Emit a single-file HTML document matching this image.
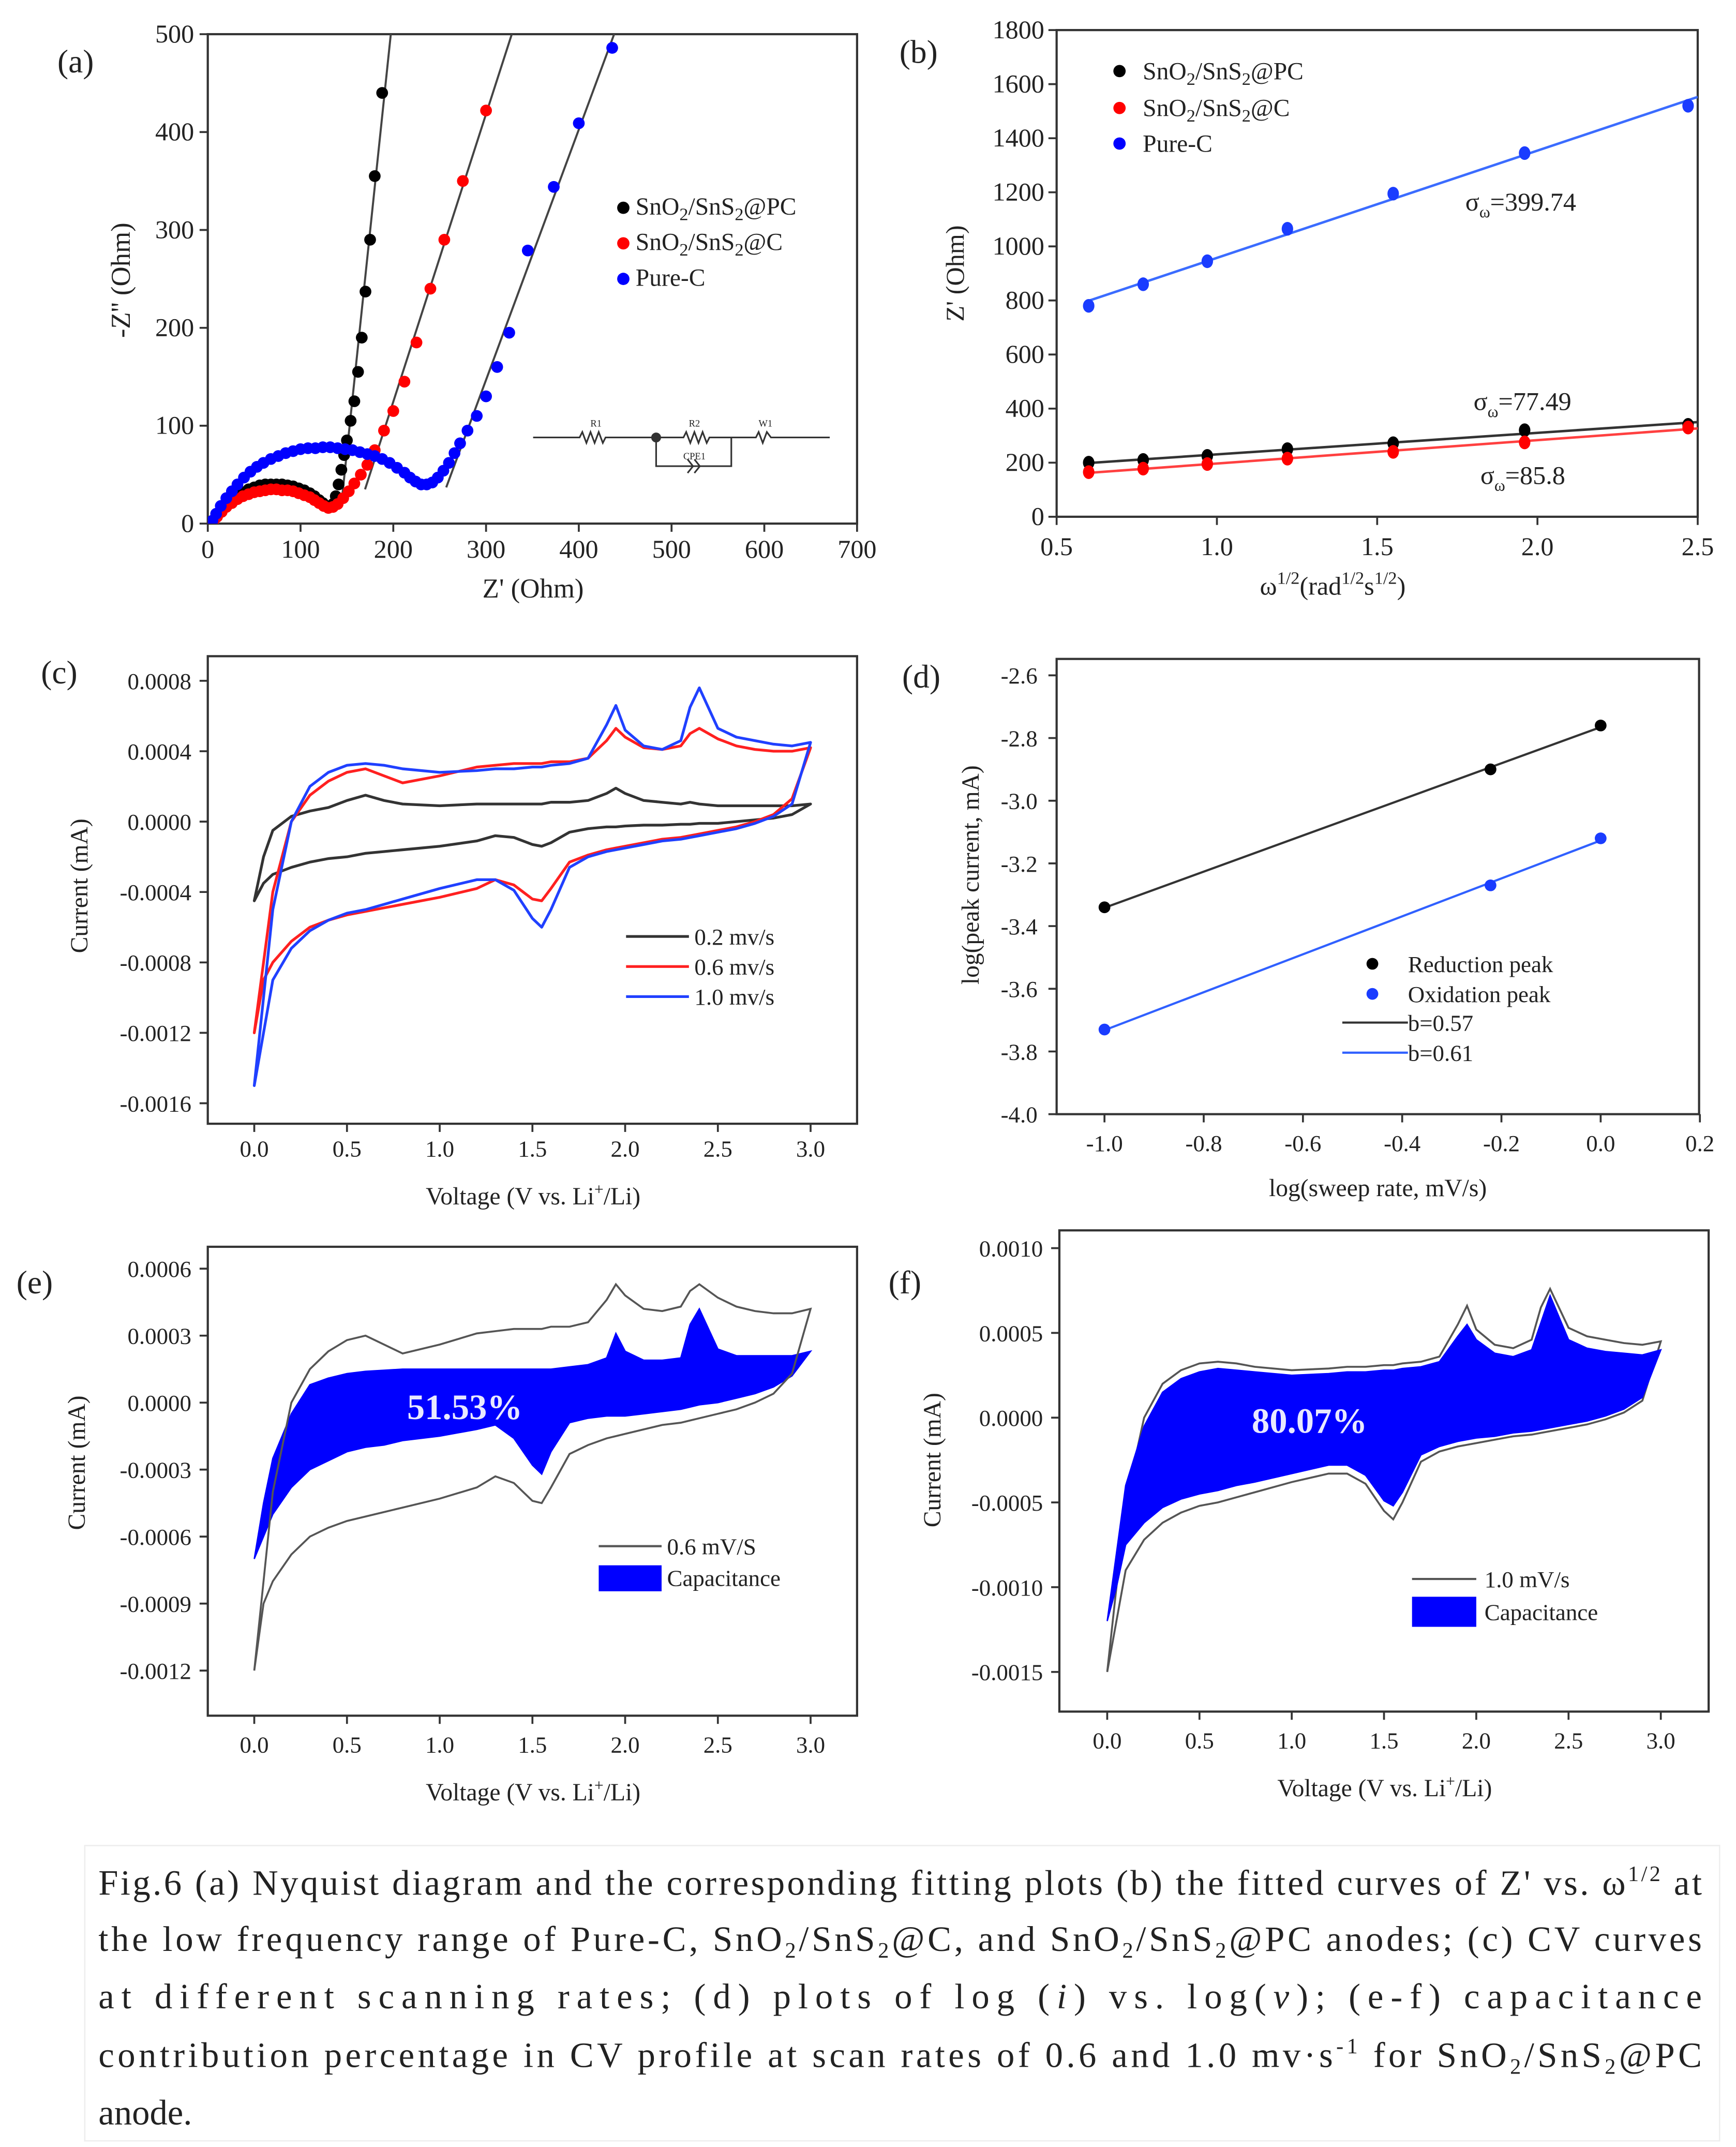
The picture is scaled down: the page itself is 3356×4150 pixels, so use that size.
<!DOCTYPE html>
<html><head><meta charset="utf-8">
<style>
html,body{margin:0;padding:0;background:#fff;}
svg{display:block;}
text{font-family:"Liberation Serif","Times New Roman",serif;fill:#222;}
</style></head>
<body>
<svg id="fig" xmlns="http://www.w3.org/2000/svg" width="3356" height="4150" viewBox="0 0 1270 1570.5">
<rect x="0" y="0" width="1270" height="1570.5" fill="#fff"/>
<g font-size="26">
<rect x="62" y="1350" width="1196" height="216" fill="none" stroke="#eee" stroke-width="1"/>
<text x="72" y="1386" textLength="1173" lengthAdjust="spacing">Fig.6 (a) Nyquist diagram and the corresponding fitting plots (b) the fitted curves of Z' vs. ω<tspan font-size="16" dy="-10">1/2</tspan><tspan dy="10"> at</tspan></text>
<text x="72" y="1427" textLength="1173" lengthAdjust="spacing">the low frequency range of Pure-C, SnO<tspan font-size="16" dy="5">2</tspan><tspan dy="-5">/SnS</tspan><tspan font-size="16" dy="5">2</tspan><tspan dy="-5">@C, and SnO</tspan><tspan font-size="16" dy="5">2</tspan><tspan dy="-5">/SnS</tspan><tspan font-size="16" dy="5">2</tspan><tspan dy="-5">@PC anodes; (c) CV curves</tspan></text>
<text x="72" y="1469" textLength="1173" lengthAdjust="spacing">at    different    scanning    rates;    (d)    plots    of    log    (<tspan font-style="italic">i</tspan>)    vs.    log(<tspan font-style="italic">v</tspan>); (e-f)    capacitance</text>
<text x="72" y="1512" textLength="1173" lengthAdjust="spacing">contribution percentage in CV profile at   scan rates of 0.6 and 1.0 mv·s<tspan font-size="16" dy="-10">-1</tspan><tspan dy="10"> for SnO</tspan><tspan font-size="16" dy="5">2</tspan><tspan dy="-5">/SnS</tspan><tspan font-size="16" dy="5">2</tspan><tspan dy="-5">@PC</tspan></text>
<text x="72" y="1554">anode.</text>
</g>
</svg>
<script>
// ---------- DATA ----------
// (a) Nyquist
const aBlackRe=[6,10,15,20,26,32,38,44,50,56,62,68,74,80,86,92,98,104,110,115,120,124,128,132,135,138,141,144,147,150,154,158,162,166,170,175,180,188];
const aBlackIm=[3,9,15,20,25,29,32,35,37,39,40,40,40,40,39,38,36,34,31,28,24,21,18,17,20,28,40,55,70,85,105,125,155,190,237,290,355,440];
const aRedRe=[6,10,15,20,26,32,38,44,50,56,62,68,74,80,86,92,98,104,110,115,120,125,130,135,140,146,152,158,165,172,180,190,200,212,225,240,255,275,300];
const aRedIm=[2,7,12,17,21,25,28,30,32,33,34,35,35,34,34,33,31,29,27,24,21,18,16,17,20,26,33,41,50,60,75,95,115,145,185,240,290,350,422];
const aBlueRe=[5,9,14,20,26,32,39,46,53,60,68,76,84,92,100,108,116,124,132,140,148,156,164,172,180,188,196,204,212,218,224,230,236,242,248,254,260,266,272,280,290,300,312,325,345,373,400,436];
const aBlueIm=[3,10,18,26,33,40,47,53,58,62,66,69,72,74,76,77,77,78,78,77,76,75,73,71,69,66,62,57,52,47,43,40,40,42,47,54,62,72,82,95,110,130,160,195,279,344,409,486];
const aFitStart=[27,29,36]; // index where linear Warburg region begins
// (b) Z' vs w^1/2
const bX=[0.6,0.77,0.97,1.22,1.55,1.96,2.47];
const bBlue=[780,860,945,1065,1195,1345,1520];
const bBlack=[200,210,225,250,272,320,340];
const bRed=[165,178,195,215,240,275,330];
// (c) CV curves (units 1e-4 mA)
const cV=[0,0.05,0.1,0.2,0.3,0.4,0.5,0.6,0.7,0.8,1.0,1.2,1.3,1.4,1.5,1.55,1.6,1.7,1.8,1.9,1.95,2.0,2.1,2.2,2.3,2.35,2.4,2.5,2.6,2.7,2.8,2.9,3.0];
const cBlackUp=[-4.5,-2,-0.5,0.3,0.6,0.8,1.2,1.5,1.2,1.0,0.9,1.0,1.0,1.0,1.0,1.0,1.1,1.1,1.2,1.6,1.9,1.6,1.2,1.1,1.0,1.1,1.0,0.9,0.9,0.9,0.9,0.9,1.0];
const cBlackDn=[-4.5,-3.5,-3.0,-2.6,-2.3,-2.1,-2.0,-1.8,-1.7,-1.6,-1.4,-1.1,-0.8,-0.9,-1.3,-1.4,-1.2,-0.6,-0.4,-0.3,-0.3,-0.25,-0.2,-0.2,-0.15,-0.15,-0.1,-0.1,0,0.1,0.2,0.4,1.0];
const cRedUp=[-12,-8,-4,0,1.5,2.3,2.8,3.0,2.6,2.2,2.6,3.1,3.2,3.3,3.3,3.3,3.4,3.4,3.6,4.6,5.3,4.8,4.2,4.1,4.3,5.0,5.3,4.7,4.3,4.1,4.0,4.0,4.2];
const cRedDn=[-12,-9,-8,-6.8,-6,-5.6,-5.3,-5.1,-4.9,-4.7,-4.3,-3.8,-3.3,-3.6,-4.4,-4.5,-3.8,-2.3,-1.9,-1.6,-1.5,-1.4,-1.2,-1.0,-0.9,-0.8,-0.7,-0.5,-0.3,0,0.4,1.3,4.2];
const cBlueUp=[-15,-10,-5,0,2.0,2.8,3.2,3.3,3.2,3.0,2.8,2.9,3.0,3.0,3.1,3.1,3.2,3.3,3.6,5.5,6.6,5.2,4.3,4.1,4.6,6.5,7.6,5.3,4.8,4.6,4.4,4.3,4.5];
const cBlueDn=[-15,-12,-9,-7.2,-6.2,-5.6,-5.2,-5.0,-4.7,-4.4,-3.8,-3.3,-3.3,-3.9,-5.5,-6.0,-5.0,-2.6,-2.0,-1.7,-1.6,-1.5,-1.3,-1.1,-1.0,-0.9,-0.8,-0.6,-0.4,-0.1,0.3,1.0,4.5];
const cLegend=['0.2 mv/s','0.6 mv/s','1.0 mv/s'];
// (d) log i vs log v
const dX=[-1,-0.222,0];
const dRed=[-3.34,-2.90,-2.76];
const dOx=[-3.73,-3.27,-3.12];
// (e) capacitive fill, 0.6 mV/s
const eCapUp=[-7,-4.5,-2.5,-0.5,0.8,1.1,1.3,1.4,1.45,1.5,1.5,1.5,1.5,1.5,1.5,1.5,1.5,1.6,1.7,2.0,3.1,2.3,1.9,1.9,2.0,3.5,4.2,2.4,2.1,2.1,2.1,2.1,2.3];
const eCapDn=[-7,-6,-5,-3.8,-3.0,-2.6,-2.2,-2.0,-1.9,-1.7,-1.5,-1.2,-1.0,-1.6,-2.8,-3.2,-2.2,-0.9,-0.7,-0.6,-0.6,-0.6,-0.5,-0.4,-0.3,-0.2,-0.1,0,0.2,0.4,0.7,1.2,2.3];
// (f) capacitive fill, 1.0 mV/s
const fCapUp=[-12,-8,-4,-0.5,1.5,2.3,2.7,2.9,2.8,2.7,2.5,2.6,2.7,2.7,2.8,2.8,2.9,3.0,3.3,4.8,5.5,4.6,3.8,3.6,4.0,5.6,7.2,4.6,4.1,3.9,3.8,3.7,4.0];
const fCapDn=[-12,-10,-7.5,-6.2,-5.3,-4.8,-4.5,-4.3,-4.0,-3.8,-3.3,-2.8,-2.8,-3.4,-4.9,-5.2,-4.4,-2.2,-1.7,-1.4,-1.3,-1.2,-1.1,-0.9,-0.8,-0.7,-0.6,-0.4,-0.2,0.1,0.5,1.2,4.0];
// tick labels
const aXTicks=[0,100,200,300,400,500,600,700];
const aYTicks=[0,100,200,300,400,500];
const bXTicks=[0.5,1.0,1.5,2.0,2.5];
const bYTicks=[0,200,400,600,800,1000,1200,1400,1600,1800];
const vTicks=[0,0.5,1.0,1.5,2.0,2.5,3.0];
const cYTicks=[0.0008,0.0004,0,-0.0004,-0.0008,-0.0012,-0.0016];
const dXTicks=[-1.0,-0.8,-0.6,-0.4,-0.2,0.0,0.2];
const dYTicks=[-2.6,-2.8,-3.0,-3.2,-3.4,-3.6,-3.8,-4.0];
const eYTicks=[0.0006,0.0003,0,-0.0003,-0.0006,-0.0009,-0.0012];
const fYTicks=[0.0010,0.0005,0,-0.0005,-0.0010,-0.0015];

// ---------- HELPERS ----------
const NS='http://www.w3.org/2000/svg';
const svg=document.getElementById('fig');
function mk(tag,attrs,parent){const e=document.createElementNS(NS,tag);for(const k in attrs)e.setAttribute(k,attrs[k]);(parent||svg).appendChild(e);return e;}
function lin(v0,p0,v1,p1){return v=>p0+(v-v0)*(p1-p0)/(v1-v0);}
function fit(xs,ys){const n=xs.length;let sx=0,sy=0,sxx=0,sxy=0;for(let i=0;i<n;i++){sx+=xs[i];sy+=ys[i];sxx+=xs[i]*xs[i];sxy+=xs[i]*ys[i];}const m=(n*sxy-sx*sy)/(n*sxx-sx*sx);return {m:m,b:(sy-m*sx)/n};}
let clipId=0;
function panel(p){
  const g=mk('g',{});
  
  
  const cp=mk('clipPath',{id:'clip'+(++clipId)},g);
  mk('rect',{x:p.bx0,y:p.by0,width:p.bx1-p.bx0,height:p.by1-p.by0},cp);
  const box=mk('rect',{x:p.bx0,y:p.by0,width:p.bx1-p.bx0,height:p.by1-p.by0,fill:'none',stroke:'#333','stroke-width':1.6},g);
  
  
  p.xt.forEach(v=>{const x=p.sx(v);
    const t=mk('line',{x1:x,x2:x,y1:p.by1,y2:p.by1+6,stroke:'#333','stroke-width':1.4},g);
    
    
    const l=mk('text',{x:x,y:p.by1+p.xlo,'text-anchor':'middle','font-size':p.fs},g);l.textContent=p.xf(v);
    
    });
  p.yt.forEach(v=>{const y=p.sy(v);
    const t=mk('line',{x1:p.bx0-6,x2:p.bx0,y1:y,y2:y,stroke:'#333','stroke-width':1.4},g);
    
    
    const l=mk('text',{x:p.bx0-p.ylo,y:y+6,'text-anchor':'end','font-size':p.fs},g);l.textContent=p.yf(v);
    
    });
  const xl=mk('text',{x:p.xlx,y:p.xly,'text-anchor':'middle','font-size':p.lfs},g);xl.innerHTML=p.xl;
  
  
  const yl=mk('text',{x:0,y:0,'text-anchor':'middle','font-size':p.lfs,transform:'translate('+p.ylx+','+p.yly+') rotate(-90)'},g);yl.innerHTML=p.yl;
  
  
  const pl=mk('text',{x:p.plx,y:p.ply,'font-size':24},g);pl.textContent=p.pl;
  
  
  const inner=mk('g',{'clip-path':'url(#clip'+clipId+')'},g);
  return {g:g,inner:inner};
}
const f4=v=>v.toFixed(4);
const f1=v=>v.toFixed(1);
function loop(V,up,dn,sx,sy,k){const a=V.map((v,i)=>sx(v)+','+sy(up[i]*k));const b=V.map((v,i)=>sx(v)+','+sy(dn[i]*k)).reverse();return a.concat(b).join(' ');}

// ---------- (a) ----------
(function(){
const sx=lin(0,152,700,627), sy=lin(0,383,500,25);
const P=panel({name:'panel-a-nyquist',bx0:152,bx1:627,by0:25,by1:383,sx:sx,sy:sy,xt:aXTicks,yt:aYTicks,xf:v=>v,yf:v=>v,fs:19,xlo:25,ylo:10,lfs:20,
 xl:"Z' (Ohm)",xlx:390,xly:437,yl:"-Z'' (Ohm)",ylx:95,yly:205,pl:'(a)',plx:42,ply:53});
const series=[[aBlackRe,aBlackIm,'#000','black'],[aRedRe,aRedIm,'#ff0000','red'],[aBlueRe,aBlueIm,'#0000ff','blue']];
series.forEach((s,si)=>{
  const xs=s[0].slice(aFitStart[si]),ys=s[1].slice(aFitStart[si]);
  const f=fit(ys,xs); // Z' as function of Z''
  const y0=Math.max(ys[0]-25,10);
  const fl=mk('line',{x1:sx(f.m*y0+f.b),y1:sy(y0),x2:sx(f.m*520+f.b),y2:sy(520),stroke:'#444','stroke-width':1.5},P.inner);
  
  
});
series.forEach(s=>{s[0].forEach((x,i)=>{
  const c=mk('circle',{cx:sx(x),cy:sy(s[1][i]),r:4.3,fill:s[2]},P.inner);
  
  
});});
// equivalent circuit inset
const ci=mk('g',{stroke:'#333','stroke-width':1.2,fill:'none'},P.g);


mk('polyline',{points:'390,320 424,320 426,316 429,324 432,316 435,324 438,316 441,324 443,320 500,320 502,316 505,324 508,316 511,324 514,316 517,324 519,320 553,320 555,316 558,324 561,316 564,320 607,320'},ci);
mk('polyline',{points:'480,320 480,341 535,341 535,320'},ci);
mk('polyline',{points:'503,336 507,341 503,346'},ci);
mk('polyline',{points:'508,336 512,341 508,346'},ci);
mk('circle',{cx:480,cy:320,r:3,fill:'#333'},ci);
[['R1',436],['R2',508],['W1',560],['CPE1',508]].forEach((t,i)=>{const tx=mk('text',{x:t[1],y:i==3?336:312,'font-size':7,'text-anchor':'middle',stroke:'none'},ci);tx.textContent=t[0];});
// legend
const leg=[['SnO<tspan font-size="13" dy="4">2</tspan><tspan dy="-4">/SnS</tspan><tspan font-size="13" dy="4">2</tspan><tspan dy="-4">@PC</tspan>','#000',152],['SnO<tspan font-size="13" dy="4">2</tspan><tspan dy="-4">/SnS</tspan><tspan font-size="13" dy="4">2</tspan><tspan dy="-4">@C</tspan>','#ff0000',178],['Pure-C','#0000ff',204]];
leg.forEach(l=>{const lg=mk('g',{},P.g);
  
  
  mk('circle',{cx:456,cy:l[2],r:4.5,fill:l[1]},lg);
  const t=mk('text',{x:465,y:l[2]+5,'font-size':18},lg);t.innerHTML=l[0];});
})();

// ---------- (b) ----------
(function(){
const sx=lin(0.5,773,2.5,1242), sy=lin(0,378,1800,22);
const P=panel({name:'panel-b-warburg-fit',bx0:773,bx1:1242,by0:22,by1:378,sx:sx,sy:sy,xt:bXTicks,yt:bYTicks,xf:f1,yf:v=>v,fs:19,xlo:28,ylo:9,lfs:19,
 xl:'ω<tspan font-size="13" dy="-8">1/2</tspan><tspan dy="8">(rad</tspan><tspan font-size="13" dy="-8">1/2</tspan><tspan dy="8">s</tspan><tspan font-size="13" dy="-8">1/2</tspan><tspan dy="8">)</tspan>',xlx:975,xly:435,yl:"Z' (Ohm)",ylx:705,yly:200,pl:'(b)',plx:658,ply:46});
[[bBlack,'#333','#000','black'],[bRed,'#ff4040','#ff0000','red'],[bBlue,'#3b6cff','#1a3cff','blue']].forEach(s=>{
  const f=fit(bX,s[0]);
  const fl=mk('line',{x1:sx(0.6),y1:sy(f.m*0.6+f.b),x2:sx(2.5),y2:sy(f.m*2.5+f.b),stroke:s[1],'stroke-width':1.8},P.inner);
  
  
  bX.forEach((x,i)=>{const c=mk('ellipse',{cx:sx(x),cy:sy(s[0][i]),rx:4.2,ry:5,fill:s[2]},P.inner);
    
    });
});
const leg=[['SnO<tspan font-size="13" dy="4">2</tspan><tspan dy="-4">/SnS</tspan><tspan font-size="13" dy="4">2</tspan><tspan dy="-4">@PC</tspan>','#000',52],['SnO<tspan font-size="13" dy="4">2</tspan><tspan dy="-4">/SnS</tspan><tspan font-size="13" dy="4">2</tspan><tspan dy="-4">@C</tspan>','#ff0000',79],['Pure-C','#0000ff',105]];
leg.forEach(l=>{const lg=mk('g',{},P.g);
  
  
  mk('circle',{cx:819,cy:l[2],r:4.5,fill:l[1]},lg);
  const t=mk('text',{x:836,y:l[2]+6,'font-size':18},lg);t.innerHTML=l[0];});
[['399.74',1072,154],['77.49',1078,300],['85.8',1083,354]].forEach(a=>{
  const t=mk('text',{x:a[1],y:a[2],'font-size':19},P.g);t.innerHTML='σ<tspan font-size="12" dy="5">ω</tspan><tspan dy="-5">='+a[0]+'</tspan>';
  
  });
})();

// ---------- (c) ----------
(function(){
const sx=lin(0,186,3,593), sy=lin(0,601,0.0008,498);
const P=panel({name:'panel-c-cv-curves',bx0:152,bx1:627,by0:480,by1:822,sx:sx,sy:sy,xt:vTicks,yt:cYTicks,xf:f1,yf:f4,fs:17,xlo:24,ylo:12,lfs:18,
 xl:'Voltage (V vs. Li<tspan font-size="12" dy="-7">+</tspan><tspan dy="7">/Li)</tspan>',xlx:390,xly:881,yl:'Current (mA)',ylx:64,yly:648,pl:'(c)',plx:30,ply:500});
[[cBlackUp,cBlackDn,'#333','black'],[cRedUp,cRedDn,'#ff2020','red'],[cBlueUp,cBlueDn,'#2040ff','blue']].forEach(s=>{
  const pg=mk('polygon',{points:loop(cV,s[0],s[1],sx,sy,1e-4),fill:'none',stroke:s[2],'stroke-width':2,'stroke-linejoin':'round'},P.inner);
  
  });
['#333','#ff2020','#2040ff'].forEach((c,i)=>{const lg=mk('g',{},P.g);
  
  
  mk('line',{x1:458,x2:504,y1:685+i*22,y2:685+i*22,stroke:c,'stroke-width':2},lg);
  const t=mk('text',{x:508,y:691+i*22,'font-size':17},lg);t.textContent=cLegend[i];});
})();

// ---------- (d) ----------
(function(){
const sx=lin(-1,808,0,1171), sy=lin(-2.6,494,-4.0,815);
const P=panel({name:'panel-d-log-plot',bx0:773,bx1:1243,by0:482,by1:815,sx:sx,sy:sy,xt:dXTicks,yt:dYTicks,xf:f1,yf:f1,fs:17,xlo:27,ylo:14,lfs:18,
 xl:'log(sweep rate, mV/s)',xlx:1008,xly:875,yl:'log(peak current, mA)',ylx:716,yly:640,pl:'(d)',plx:660,ply:503});
[[dRed,'#333','#000','reduction'],[dOx,'#3060ff','#1a3cff','oxidation']].forEach(s=>{
  const f=fit(dX,s[0]);
  const fl=mk('line',{x1:sx(-1),y1:sy(f.m*-1+f.b),x2:sx(0),y2:sy(f.b),stroke:s[1],'stroke-width':1.6},P.inner);
  
  
  dX.forEach((x,i)=>{const c=mk('circle',{cx:sx(x),cy:sy(s[0][i]),r:4.3,fill:s[2]},P.inner);
    
    });
});
[['Reduction peak','#000',705],['Oxidation peak','#1a3cff',727]].forEach(l=>{const lg=mk('g',{},P.g);
  
  
  mk('circle',{cx:1004,cy:l[2],r:4.3,fill:l[1]},lg);
  const t=mk('text',{x:1030,y:l[2]+6,'font-size':17},lg);t.textContent=l[0];});
[['b=0.57','#333',748],['b=0.61','#3060ff',770]].forEach(l=>{const lg=mk('g',{},P.g);
  
  
  mk('line',{x1:982,x2:1030,y1:l[2],y2:l[2],stroke:l[1],'stroke-width':1.6},lg);
  const t=mk('text',{x:1030,y:l[2]+6,'font-size':17},lg);t.textContent=l[0];});
})();

// ---------- (e) ----------
(function(){
const sx=lin(0,186,3,593), sy=lin(0,1026,0.0006,928);
const P=panel({name:'panel-e-capacitance-0.6',bx0:152,bx1:627,by0:912,by1:1255,sx:sx,sy:sy,xt:vTicks,yt:eYTicks,xf:f1,yf:f4,fs:17,xlo:27,ylo:12,lfs:18,
 xl:'Voltage (V vs. Li<tspan font-size="12" dy="-7">+</tspan><tspan dy="7">/Li)</tspan>',xlx:390,xly:1317,yl:'Current (mA)',ylx:62,yly:1070,pl:'(e)',plx:12,ply:946});
const fl=mk('polygon',{points:loop(cV,eCapUp,eCapDn,sx,sy,1e-4),fill:'#0000ff',stroke:'#0000ff','stroke-width':1},P.inner);


const ol=mk('polygon',{points:loop(cV,cRedUp,cRedDn,sx,sy,1e-4),fill:'none',stroke:'#555','stroke-width':1.4},P.inner);


const pc=mk('text',{x:340,y:1038,'font-size':26,'font-weight':'bold','text-anchor':'middle',style:'fill:#e8e8ff'},P.g);pc.textContent='51.53%';


const lg=mk('g',{},P.g);


mk('line',{x1:438,x2:484,y1:1131,y2:1131,stroke:'#555','stroke-width':1.6},lg);
mk('rect',{x:438,y:1145,width:46,height:19,fill:'#0000ff'},lg);
let t=mk('text',{x:488,y:1137,'font-size':17},lg);t.textContent='0.6 mV/S';
t=mk('text',{x:488,y:1160,'font-size':17},lg);t.textContent='Capacitance';
})();

// ---------- (f) ----------
(function(){
const sx=lin(0,810,3,1215), sy=lin(0,1037,0.0010,913);
const P=panel({name:'panel-f-capacitance-1.0',bx0:775,bx1:1250,by0:900,by1:1252,sx:sx,sy:sy,xt:vTicks,yt:fYTicks,xf:f1,yf:f4,fs:17,xlo:27,ylo:12,lfs:18,
 xl:'Voltage (V vs. Li<tspan font-size="12" dy="-7">+</tspan><tspan dy="7">/Li)</tspan>',xlx:1013,xly:1314,yl:'Current (mA)',ylx:688,yly:1068,pl:'(f)',plx:650,ply:946});
const ol=mk('polygon',{points:loop(cV,cBlueUp,cBlueDn,sx,sy,1e-4),fill:'none',stroke:'#555','stroke-width':1.4},P.inner);


const fl=mk('polygon',{points:loop(cV,fCapUp,fCapDn,sx,sy,1e-4),fill:'#0000ff',stroke:'#0000ff','stroke-width':1},P.inner);


const pc=mk('text',{x:958,y:1048,'font-size':26,'font-weight':'bold','text-anchor':'middle',style:'fill:#e8e8ff'},P.g);pc.textContent='80.07%';


const lg=mk('g',{},P.g);


mk('line',{x1:1033,x2:1080,y1:1155,y2:1155,stroke:'#555','stroke-width':1.6},lg);
mk('rect',{x:1033,y:1168,width:47,height:22,fill:'#0000ff'},lg);
let t=mk('text',{x:1086,y:1161,'font-size':17},lg);t.textContent='1.0 mV/s';
t=mk('text',{x:1086,y:1185,'font-size':17},lg);t.textContent='Capacitance';
})();
</script>
</body></html>
